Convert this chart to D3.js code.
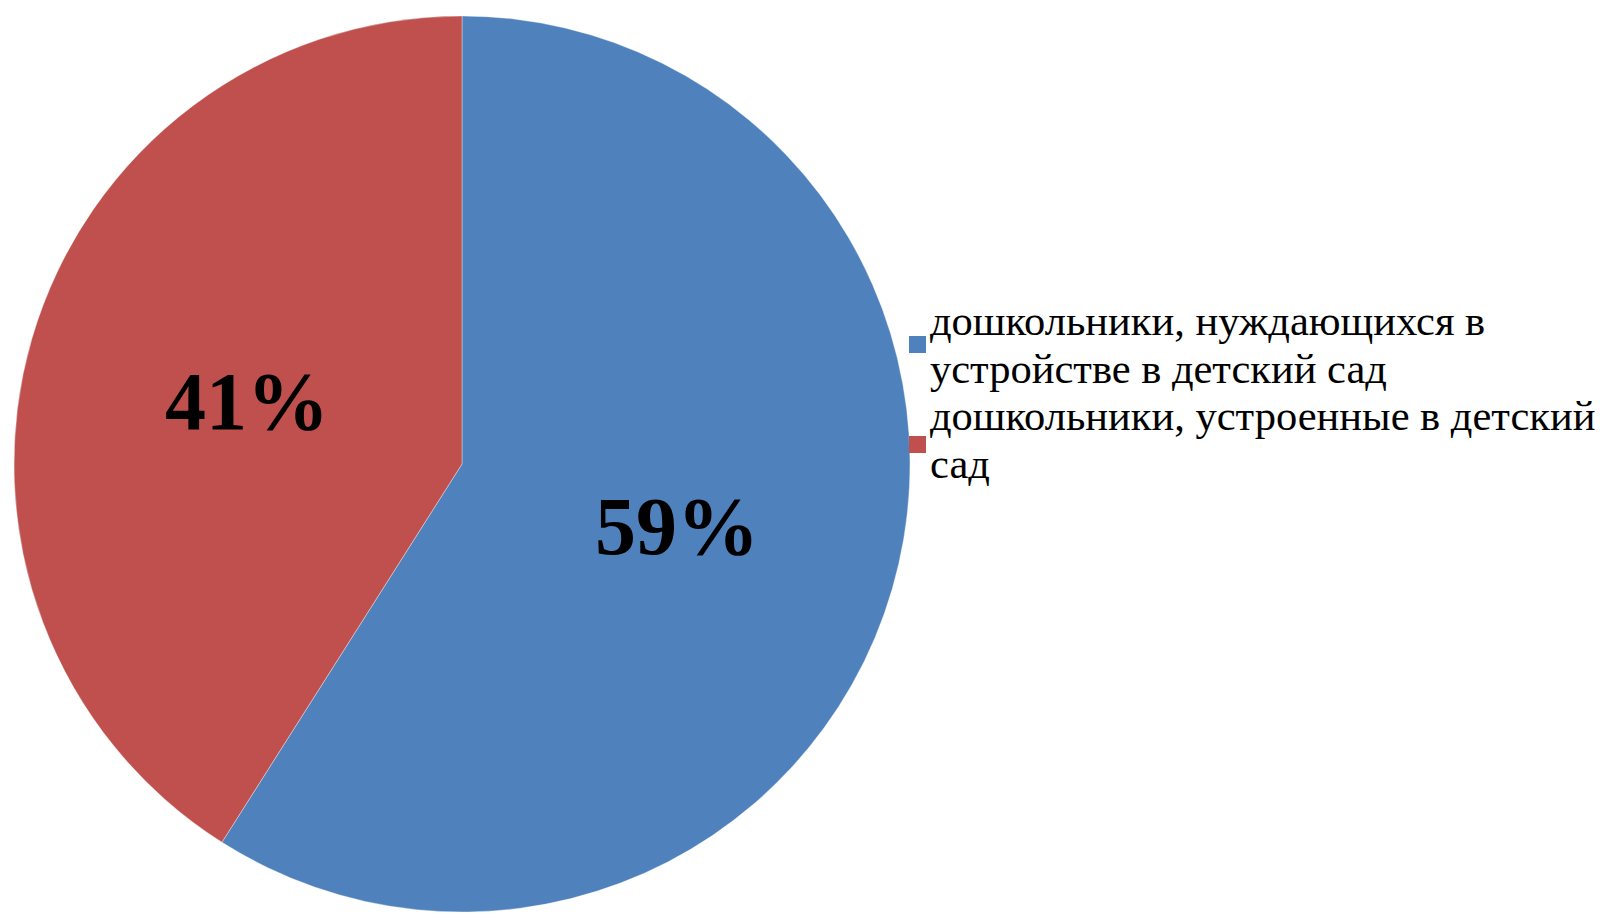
<!DOCTYPE html>
<html>
<head>
<meta charset="utf-8">
<script src="https://cdn.jsdelivr.net/npm/d3@7"></script>
<style>
  html, body { margin: 0; padding: 0; background: #fff; }
  svg { display: block; }
</style>
</head>
<body>
<div id="chart"></div>
<script>
// Data.
var categories = [
  ['дошкольники, нуждающихся в', 'устройстве в детский сад'],
  ['дошкольники, устроенные в детский', 'сад']
];
var values = [59, 41];
var colors = ['#4F81BD', '#C0504D'];

var width = 1606, height = 913;
var cx = 462, cy = 464, radius = 448;

var svg = d3.select('#chart')
            .append('svg')
            .attr('width', width)
            .attr('height', height);

var g = svg.append('g')
           .attr('transform', 'translate(' + cx + ',' + cy + ')');

// Slices go clockwise from 12 o'clock, in data order.
var pie = d3.pie().sort(null).value(function(d) { return d; });
var arcs = pie(values);
var arc = d3.arc().innerRadius(0).outerRadius(radius);

g.selectAll('path.slice')
 .data(arcs)
 .enter().append('path')
 .attr('class', 'slice')
 .attr('d', arc)
 .style('fill', function(d, i) { return colors[i]; })
 .style('stroke', 'rgba(255,255,255,0.35)')
 .style('stroke-width', 1);

// Percentage labels, about half way out along each slice's mid-angle.
var labelArc = d3.arc().innerRadius(radius * 0.5).outerRadius(radius * 0.5);
g.selectAll('text.pct')
 .data(arcs)
 .enter().append('text')
 .attr('class', 'pct')
 .attr('x', function(d) { return labelArc.centroid(d)[0]; })
 .attr('y', function(d) { return labelArc.centroid(d)[1]; })
 .attr('text-anchor', 'middle')
 .attr('dy', '0.33em')
 .style('font-family', '"Liberation Serif", "Times New Roman", serif')
 .style('font-weight', 'bold')
 .style('font-size', '82px')
 .style('fill', '#000')
 .text(function(d) { return d.data + '%'; });

// Legend.
var legend = svg.append('g').attr('class', 'legend');
var lineH = 48;
var legendTop = [335, 430];

categories.forEach(function(lines, i) {
  var item = legend.append('g');
  item.append('rect')
      .attr('x', 909)
      .attr('y', legendTop[i] + (i === 0 ? 1 : 6))
      .attr('width', 17)
      .attr('height', 17)
      .style('fill', colors[i]);
  var t = item.append('text')
      .attr('x', 930)
      .attr('y', legendTop[i])
      .style('font-family', '"Liberation Serif", "Times New Roman", serif')
      .style('font-size', '42.5px')
      .style('fill', '#000');
  lines.forEach(function(s, j) {
    t.append('tspan')
     .attr('x', 930)
     .attr('y', legendTop[i] + j * lineH)
     .text(s);
  });
});
</script>
</body>
</html>
